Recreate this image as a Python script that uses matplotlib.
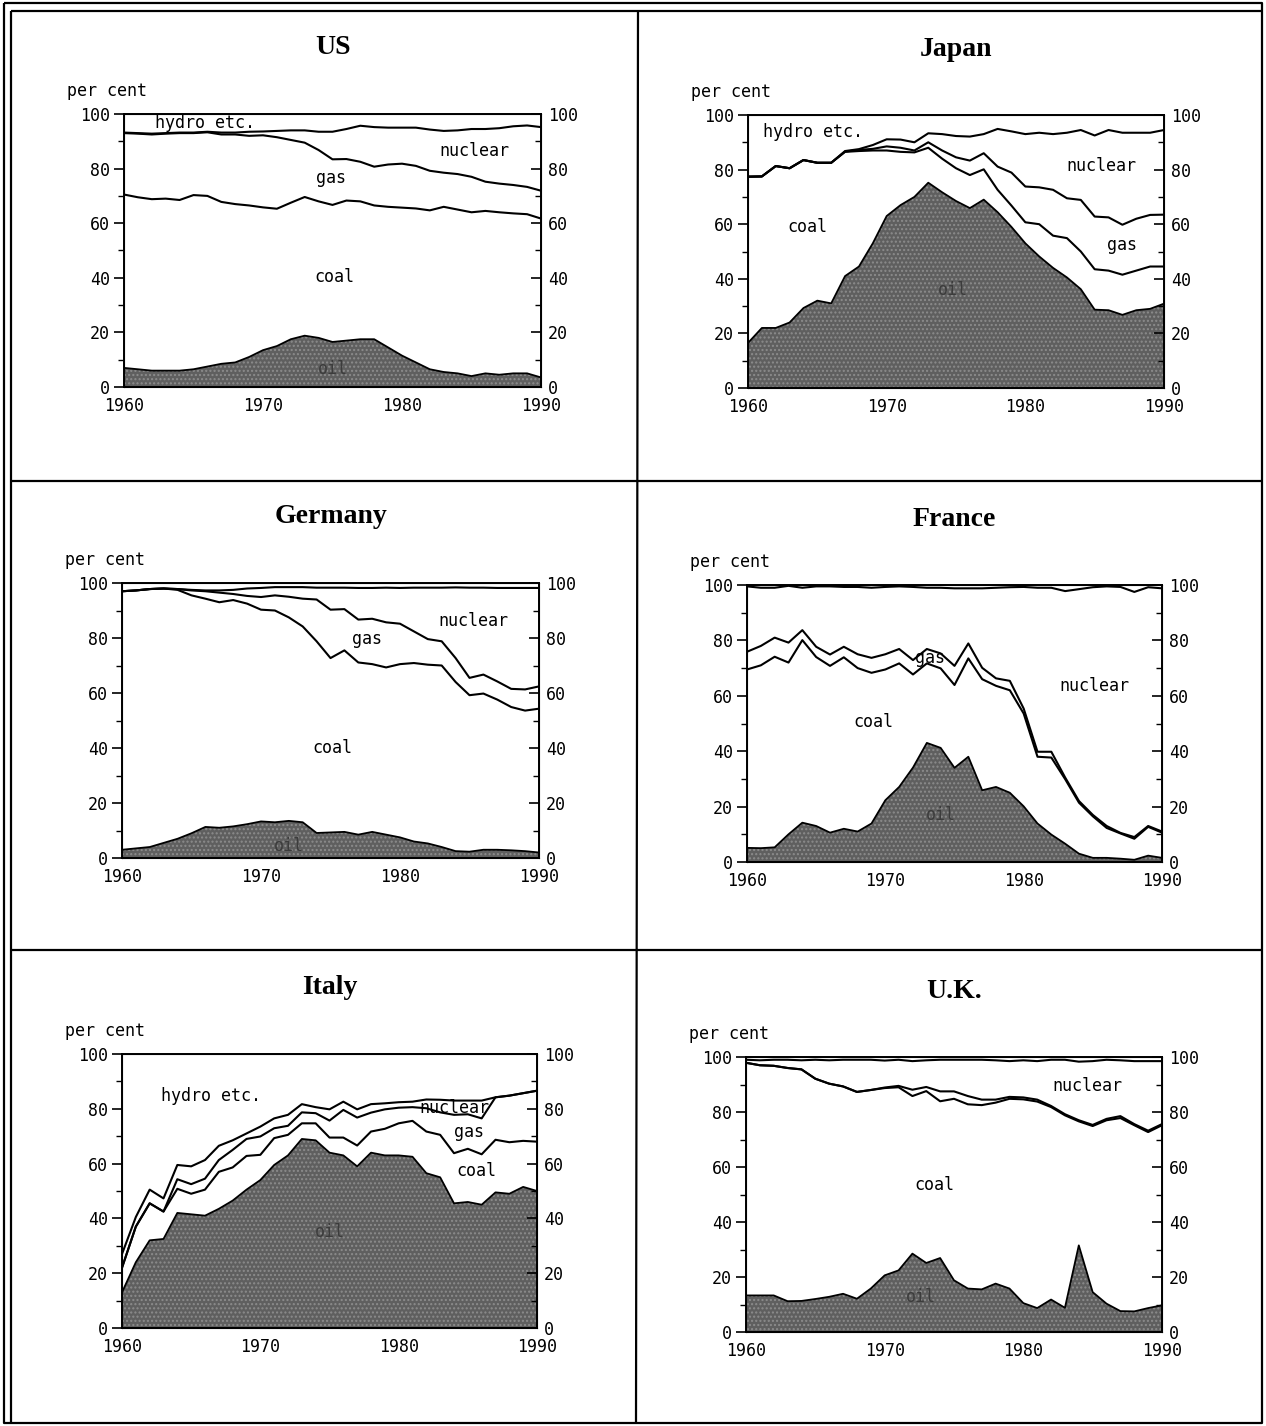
import numpy as np
import matplotlib
matplotlib.use("Agg")
import matplotlib.pyplot as plt
from matplotlib.ticker import MultipleLocator

W, H = 1266, 1426

YEARS = list(range(1960, 1991))

# cumulative shares (per cent):
# top of oil, top of coal, top of gas, top of nuclear (hydro etc. fills up to 100)
US_OIL = [7, 6.5, 6, 6, 6, 6.5, 7.5, 8.5, 9, 11, 13.5, 15, 17.5, 18.8, 18, 16.5,
          17, 17.5, 17.5, 14.5, 11.5, 9, 6.5, 5.5, 5, 4, 5, 4.5, 5, 5, 3.5]
US_COAL = [70.5, 69.5, 68.8, 69, 68.5, 70.3, 70, 67.8, 67, 66.5, 65.8, 65.3, 67.5, 69.6,
           68, 66.7, 68.3, 68, 66.5, 66, 65.7, 65.4, 64.7, 66, 65, 64, 64.5, 64, 63.6, 63.3, 61.7]
US_GAS = [93, 92.8, 92.5, 92.8, 93, 93, 93.3, 92.5, 92.5, 92, 92.2, 91.5, 90.5, 89.5,
          86.8, 83.4, 83.5, 82.5, 80.7, 81.5, 81.8, 81, 79.2, 78.5, 78, 77, 75.2, 74.5, 74, 73.3, 71.9]
US_NUCLEAR = [93.2, 93, 92.8, 93, 93.2, 93.2, 93.5, 93.2, 93.2, 93.5, 93.6, 93.8, 94, 94,
              93.5, 93.5, 94.5, 95.7, 95.2, 95, 95, 95, 94.3, 93.8, 94, 94.5, 94.5, 94.8, 95.5, 95.8, 95.2]

JP_OIL = [16.5, 22, 22, 24, 29.3, 32, 31, 41, 44.5, 53, 63, 67, 70, 75.2, 71.7, 68.5,
          65.9, 69, 64.4, 59, 53, 48.2, 44, 40.5, 36.2, 28.7, 28.5, 26.8, 28.5, 29, 30.9]
JP_COAL = [77.4, 77.5, 81.3, 80.5, 83.5, 82.5, 82.5, 86.5, 86.8, 87, 87, 86.5, 86.3, 88,
           84, 80.5, 78, 80.1, 72.6, 66.8, 60.7, 60, 55.8, 54.9, 50, 43.5, 43, 41.5, 43, 44.5, 44.5]
JP_GAS = [77.4, 77.5, 81.3, 80.5, 83.5, 82.5, 82.5, 86.6, 87.2, 87.6, 88.5, 88, 87, 90,
          87, 84.5, 83.3, 86, 81.1, 78.9, 73.8, 73.5, 72.6, 69.5, 68.9, 62.8, 62.5, 59.8, 62, 63.4, 63.5]
JP_NUCLEAR = [77.4, 77.5, 81.3, 80.5, 83.5, 82.5, 82.5, 86.8, 87.5, 89, 91.1, 91, 90, 93.3,
              93, 92.3, 92.1, 93, 94.9, 94, 93, 93.5, 93, 93.5, 94.5, 92.5, 94.5, 93.5, 93.5, 93.5, 94.5]

DE_OIL = [3, 3.5, 4, 5.5, 7, 9, 11.3, 11, 11.5, 12.3, 13.3, 13, 13.5, 13, 9.1, 9.3,
          9.5, 8.5, 9.5, 8.5, 7.5, 6, 5.3, 4, 2.5, 2.3, 3, 3, 2.8, 2.5, 2]
DE_COAL = [97, 97.3, 97.8, 98, 97.5, 95.5, 94.3, 93, 93.8, 92.5, 90.3, 90, 87.5, 84.2,
           78.8, 72.7, 75.5, 71.1, 70.5, 69.3, 70.5, 70.9, 70.3, 70, 64, 59.2, 59.8, 57.6, 54.9, 53.6, 54.3]
DE_GAS = [97, 97.3, 97.8, 98, 97.8, 97.3, 97, 96.5, 96, 95.3, 94.9, 95.5, 95, 94.3,
          94, 90.3, 90.5, 86.7, 87, 85.7, 85.2, 82.4, 79.6, 78.8, 72.7, 65.5, 66.7, 64.2, 61.5, 61.3, 62.4]
DE_NUCLEAR = [97, 97.3, 97.8, 98, 97.8, 97.5, 97.3, 97.3, 97.5, 98, 98.2, 98.5, 98.5, 98.5,
              98.3, 98.3, 98.3, 98.2, 98.2, 98.3, 98.2, 98.3, 98.3, 98.3, 98.4, 98.3, 98.3, 98.2, 98.2, 98.2, 98.2]

FR_OIL = [5.1, 5, 5.3, 10, 14.2, 13, 10.6, 12, 11, 13.9, 22.3, 27.1, 34.1, 43, 41.2, 34,
          38, 25.9, 27.1, 25, 20.1, 13.9, 9.9, 6.6, 3, 1.5, 1.5, 1.2, 0.8, 2.3, 1.5]
FR_COAL = [69.5, 71, 74.1, 72, 80.1, 74, 70.8, 73.9, 70, 68.3, 69.5, 71.7, 67.7, 71.7,
           69.9, 63.9, 73.5, 66, 63.6, 62, 53.6, 38, 37.7, 29.9, 21.4, 16.5, 12.3, 10.3, 8.4, 12.7, 10.6]
FR_GAS = [75.9, 78, 81, 79.2, 83.7, 77.7, 74.9, 77.7, 75, 73.7, 75, 76.9, 72.9, 76.9,
          75.3, 70.8, 78.9, 70.1, 66.3, 65.4, 55.4, 39.8, 39.8, 30.5, 22, 17, 13, 10.5, 9, 13, 11]
FR_NUCLEAR = [99.5, 99, 99, 99.7, 99, 99.5, 99.5, 99.3, 99.3, 99, 99.3, 99.5, 99.3, 99,
              99, 98.8, 98.8, 98.8, 99, 99.2, 99.3, 99, 99, 97.8, 98.5, 99.2, 99.5, 99.3, 97.5, 99.2, 98.8]

IT_OIL = [13, 24, 32, 32.5, 42, 41.5, 41, 43.5, 46.5, 50.5, 54, 59.5, 63, 69, 68.5, 64,
          63, 59, 64, 63, 63, 62.5, 56.5, 55, 45.5, 46, 45, 49.5, 49, 51.5, 50]
IT_COAL = [22, 37, 45.5, 42.5, 50.8, 49, 50.5, 57, 58.6, 62.8, 63.2, 69.3, 70.5, 74.7,
           74.7, 69.5, 69.5, 66.6, 71.7, 72.7, 74.7, 75.6, 71.7, 70.5, 63.8, 65.4, 63.4, 68.7, 67.8, 68.3, 68]
IT_GAS = [22, 37, 45.5, 42.5, 54.3, 52.5, 54.5, 61.3, 65, 69, 69.9, 72.9, 73.8, 78.7,
          78.4, 75.7, 79.6, 76.8, 78.6, 79.8, 80.4, 80.6, 80.2, 78.7, 77.8, 78, 76.5, 84.2, 84.8, 85.7, 86.6]
IT_NUCLEAR = [27, 40.5, 50.5, 47.3, 59.5, 59, 61.3, 66.5, 68.5, 71, 73.5, 76.5, 77.8, 81.7,
              80.6, 79.8, 82.6, 79.8, 81.7, 82, 82.4, 82.6, 83.4, 83.3, 83, 83, 83, 84.2, 84.8, 85.7, 86.6]

UK_OIL = [13.3, 13.3, 13.3, 11.2, 11.3, 12, 12.8, 13.9, 12.1, 15.8, 20.6, 22.4, 28.5, 25.1,
          26.9, 18.8, 15.8, 15.5, 17.6, 15.8, 10.5, 8.7, 11.8, 8.8, 31.5, 14.5, 10.3, 7.6, 7.5, 8.7, 9.7]
UK_COAL = [97.9, 97, 96.8, 96, 95.5, 92.1, 90.3, 89.3, 87.3, 88, 88.7, 89, 85.8, 87.6,
           83.9, 84.8, 82.8, 82.5, 83.4, 84.8, 84.6, 83.8, 81.8, 78.8, 76.6, 74.9, 77, 77.8, 75.2, 72.7, 75.2]
UK_GAS = [97.9, 97, 96.8, 96, 95.5, 92.1, 90.3, 89.3, 87.3, 88, 88.9, 89.5, 88.1, 89.1,
          87.5, 87.5, 85.8, 84.5, 84.5, 85.5, 85.3, 84.5, 82.2, 79.2, 77, 75.3, 77.5, 78.5, 75.6, 73.2, 75.6]
UK_NUCLEAR = [99, 98.8, 99, 99, 98.8, 99, 98.8, 99, 99, 99, 98.7, 99, 98.5, 98.8, 99,
              99, 99, 99, 98.8, 98.5, 98.8, 98.5, 99, 99, 98.3, 98.5, 99, 98.8, 98.5, 98.5, 98.5]

# title, series, axes box in pixels (left, top, right, bottom), in-plot labels (text, year, value)
panels = [
    ("US", (US_OIL, US_COAL, US_GAS, US_NUCLEAR), (124, 114, 541, 387),
     [("hydro etc.", 1965.8, 96.8), ("nuclear", 1985.2, 86.4), ("gas", 1974.9, 76.4),
      ("coal", 1975.1, 40.3), ("oil", 1975.0, 6.5)]),
    ("Japan", (JP_OIL, JP_COAL, JP_GAS, JP_NUCLEAR), (748, 115, 1164, 388),
     [("hydro etc.", 1964.7, 93.9), ("nuclear", 1985.5, 81.5), ("gas", 1987.0, 52.4),
      ("coal", 1964.3, 58.8), ("oil", 1974.8, 36)]),
    ("Germany", (DE_OIL, DE_COAL, DE_GAS, DE_NUCLEAR), (122, 583, 539, 858),
     [("nuclear", 1985.3, 86), ("gas", 1977.6, 79.6), ("coal", 1975.1, 40),
      ("oil", 1972.0, 4.5)]),
    ("France", (FR_OIL, FR_COAL, FR_GAS, FR_NUCLEAR), (747, 585, 1162, 862),
     [("gas", 1973.2, 73.7), ("nuclear", 1985.1, 63.6), ("coal", 1969.1, 50.4),
      ("oil", 1974.0, 17)]),
    ("Italy", (IT_OIL, IT_COAL, IT_GAS, IT_NUCLEAR), (122, 1054, 537, 1328),
     [("hydro etc.", 1966.4, 84.7), ("nuclear", 1984.0, 80.4), ("gas", 1985.1, 71.7),
      ("coal", 1985.6, 57.4), ("oil", 1975.0, 35)]),
    ("U.K.", (UK_OIL, UK_COAL, UK_GAS, UK_NUCLEAR), (746, 1057, 1162, 1332),
     [("nuclear", 1984.6, 89.3), ("coal", 1973.6, 53.6), ("oil", 1972.6, 12.7)]),
]

plt.rcParams['font.family'] = ['DejaVu Sans Mono']

fig = plt.figure(figsize=(W / 100, H / 100), dpi=100)

# page frame and cell dividers, drawn in pixel coordinates
bg = fig.add_axes([0, 0, 1, 1], zorder=-5)
bg.set_xlim(0, W)
bg.set_ylim(H, 0)
bg.axis("off")
frame = dict(color="black", lw=1.6, solid_capstyle="butt")
bg.plot([4, 1262, 1262, 4, 4], [3, 3, 1423, 1423, 3], **frame)
bg.plot([11, 11], [11, 1423], **frame)
bg.plot([11, 1262], [11, 11], **frame)
bg.plot([638, 636], [11, 1423], **frame)
bg.plot([11, 1262], [481, 481], **frame)
bg.plot([11, 1262], [950, 950], **frame)


def fig_box(left, top, right, bottom):
    return [left / W, 1 - bottom / H, (right - left) / W, (bottom - top) / H]


for title, (oil, coal, gas, nuclear), box, labels in panels:
    left, top, right, bottom = box
    ax = fig.add_axes(fig_box(*box))

    ax.fill_between(YEARS, 0, oil, facecolor="#5f5f5f", edgecolor="#8c8c8c",
                    hatch="....", lw=0)
    ax.plot(YEARS, oil, color="black", lw=1.3)
    for series in (coal, gas, nuclear):
        ax.plot(YEARS, series, color="black", lw=1.5)

    for text, x, y in labels:
        ax.text(x, y, text, ha="center", va="center", fontsize=12,
                color="#3c3c3c" if text == "oil" else "black")

    ax.set_xlim(1960, 1990)
    ax.set_ylim(0, 100)
    ax.set_xticks([1960, 1970, 1980, 1990])
    ax.yaxis.set_major_locator(MultipleLocator(20))
    ax.yaxis.set_minor_locator(MultipleLocator(10))
    ax.tick_params(axis="x", length=0, pad=7, labelsize=12)
    ax.tick_params(axis="y", which="major", direction="out", length=7, width=1.2,
                   pad=3, labelsize=12)
    ax.tick_params(axis="y", which="minor", direction="out", length=4, width=1)
    for sp in ax.spines.values():
        sp.set_linewidth(1.4)

    rax = ax.twinx()
    rax.set_ylim(0, 100)
    rax.yaxis.set_major_locator(MultipleLocator(20))
    rax.yaxis.set_minor_locator(MultipleLocator(10))
    rax.tick_params(axis="y", which="major", direction="in", length=7, width=1.2,
                    pad=5, labelsize=12)
    rax.tick_params(axis="y", which="minor", direction="in", length=4, width=1)

    cx = (left + right) / 2
    fig.text(cx / W, 1 - (top - 66) / H, title, ha="center", va="center",
             fontsize=20, fontweight="bold", family="Liberation Serif")
    fig.text((left - 57) / W, 1 - (top - 23) / H, "per cent", ha="left",
             va="center", fontsize=12)

fig.savefig("out.png", dpi=100)
